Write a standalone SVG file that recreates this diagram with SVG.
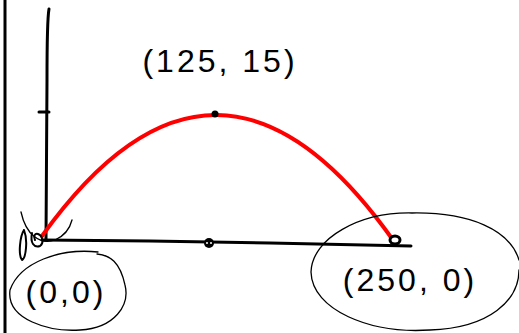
<svg xmlns="http://www.w3.org/2000/svg" width="519" height="333" viewBox="0 0 519 333">
<style>
.ink{fill:none;stroke:#000;stroke-linecap:round;stroke-linejoin:round}
.thick{stroke-width:3}
.thin{stroke-width:1.3}
.lbl{font-family:"Liberation Sans",Arial,sans-serif;font-size:32px;fill:#000;text-anchor:middle}
</style>
<rect width="519" height="333" fill="#fff"/>
<g id="frame"><line class="ink thick" x1="5" y1="0" x2="5" y2="333"/></g>
<g id="axes">
<path class="ink thick" d="M49,9 C47,20 47,40 47,80 L46,240"/>
<path class="ink thick" d="M39,112 L49,112"/>
<path class="ink thick" d="M42,240 L150,241 L270,243 L411,246"/>
</g>
<g id="curve"><path fill="none" stroke="#f00" stroke-width="4" stroke-linecap="round" d="M42,236 Q217,-8 393,240"/></g>
<g id="points">
<circle cx="215" cy="114" r="3.5" fill="#000"/>
<circle cx="209" cy="243" r="5" fill="#000"/>
<circle cx="207" cy="243" r="1" fill="#fff"/>
<circle cx="211" cy="243" r="1" fill="#fff"/>
<ellipse cx="395" cy="240" rx="5" ry="4" fill="#fff" stroke="#000" stroke-width="3"/>
<path class="ink" stroke-width="2" d="M32,233 C30,243 34,248 40,246 C44,243 43,236 38,234 C35,233 33,236 35,240"/>
<path class="ink" stroke-width="2" d="M24,230 C20,236 18,255 22,260 C26,258 28,240 24,230"/>
<path class="ink thin" d="M21,212 C26,235 40,245 55,240 C64,236 70,228 72,220"/>
</g>
<g id="labels">
<text class="lbl" x="220" y="72" letter-spacing="3">(125, 15)</text>
<path class="ink thin" d="M98,252 C60,248 20,262 10,290 C6,320 50,332 80,330 C115,328 130,305 125,285 C120,262 110,255 97,254"/>
<text class="lbl" x="66" y="303" letter-spacing="3">(0,0)</text>
<path class="ink thin" d="M412,213 C360,212 312,238 311,272 C312,310 370,334 430,330 C490,328 519,300 519,270 M519,260 C510,230 470,212 412,213"/>
<text class="lbl" x="410" y="291" letter-spacing="3">(250, 0)</text>
</g>
</svg>
